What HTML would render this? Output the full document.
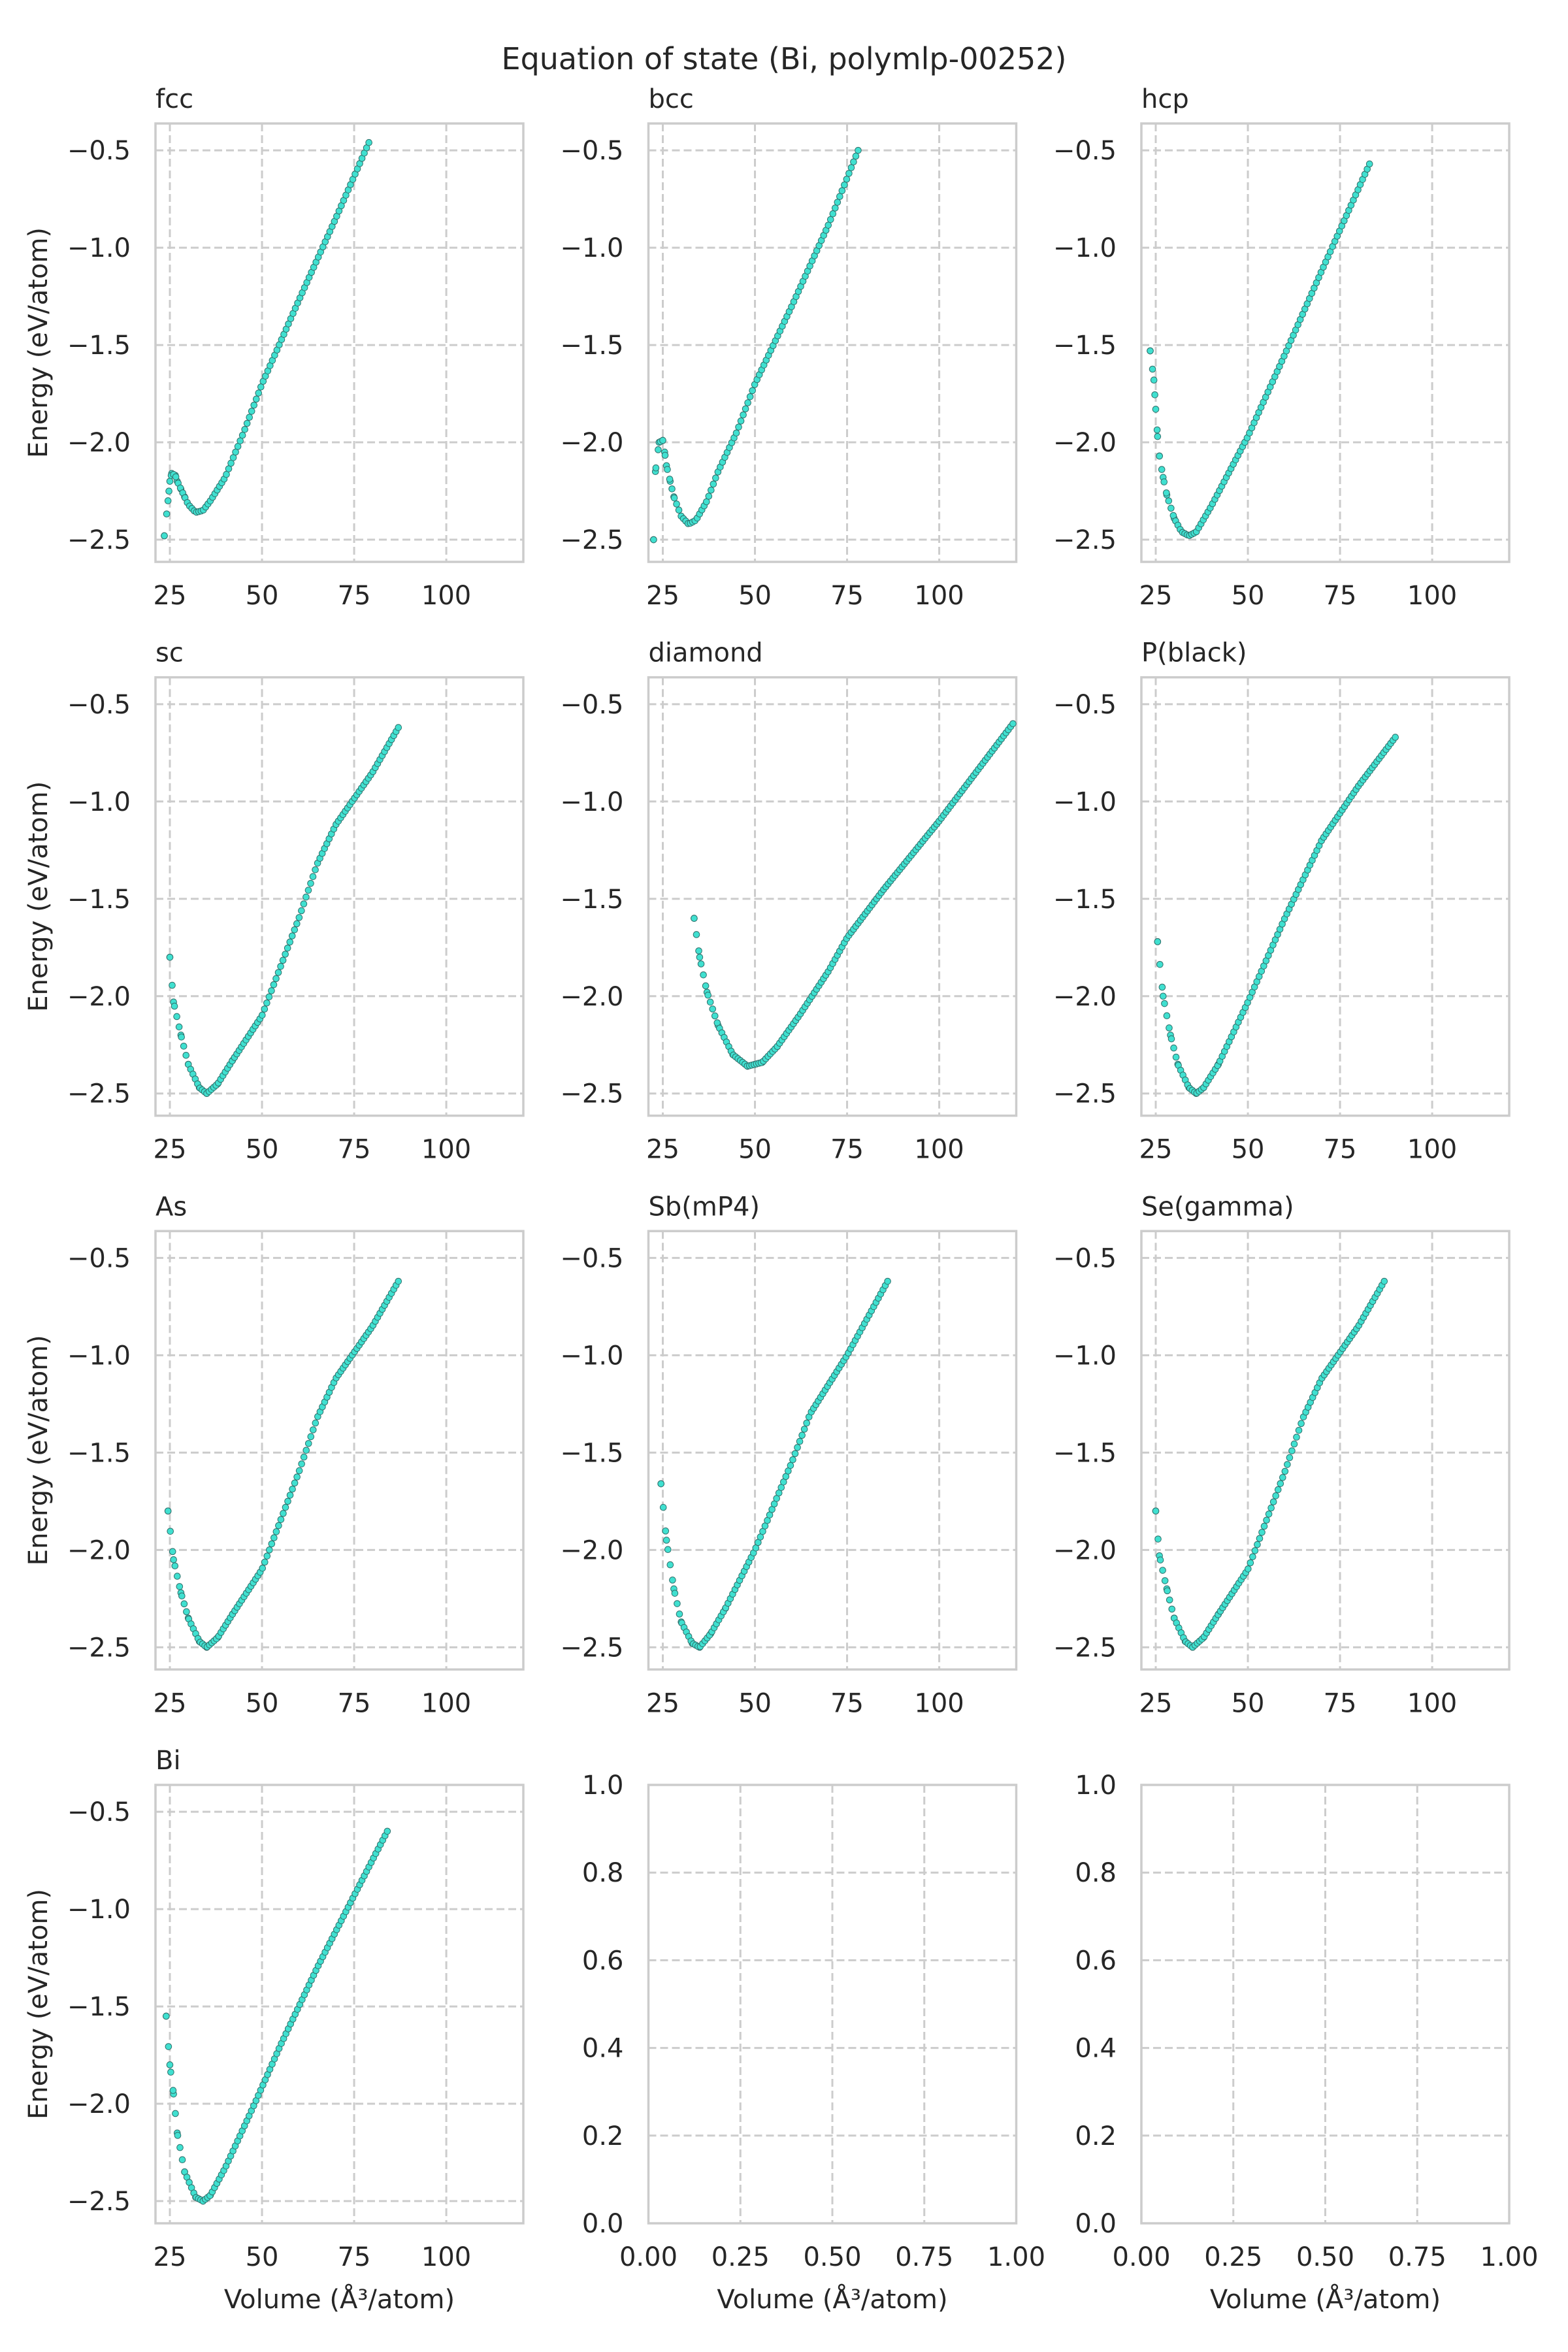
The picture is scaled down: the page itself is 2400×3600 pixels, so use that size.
<!DOCTYPE html>
<html><head><meta charset="utf-8"><style>
html,body{margin:0;padding:0;background:#fff}
svg{display:block}
text{font-family:"DejaVu Sans","Liberation Sans",sans-serif;fill:#262626}
</style></head><body>
<svg id="s" width="2400" height="3600" xmlns="http://www.w3.org/2000/svg">
<rect width="2400" height="3600" fill="#fff"/>
<text x="1200" y="106" font-size="46" text-anchor="middle">Equation of state (Bi, polymlp-00252)</text>
</svg>
<script>
const NS="http://www.w3.org/2000/svg",S=document.getElementById('s');
function el(t,a,txt){const e=document.createElementNS(NS,t);for(const k in a)e.setAttribute(k,a[k]);if(txt!==undefined)e.textContent=txt;S.appendChild(e);return e;}
const L=[238,992.5,1747],T=[189,1036.7,1884.3,2732],W=563,H=671;
const data={
fcc:[[23.5,-2.48],[24.5,-2.3],[25,-2.2],[25.5,-2.16],[26.5,-2.17],[27,-2.2],[28,-2.24],[29,-2.28],[30,-2.32],[32,-2.36],[34,-2.35],[36,-2.3],[40,-2.18],[45,-1.95],[50,-1.7],[60,-1.27],[70,-0.85],[79,-0.46]],
bcc:[[22.5,-2.5],[23,-2.15],[24,-2.0],[25,-1.99],[25.5,-2.05],[26,-2.12],[27,-2.2],[28,-2.28],[30,-2.38],[32,-2.42],[34,-2.4],[37,-2.3],[40,-2.15],[45,-1.95],[50,-1.7],[60,-1.3],[70,-0.88],[78,-0.5]],
hcp:[[23.5,-1.53],[24.5,-1.68],[25,-1.83],[25.5,-1.97],[26,-2.07],[27,-2.18],[28,-2.27],[30,-2.39],[32,-2.46],[34,-2.48],[36,-2.46],[40,-2.33],[45,-2.15],[50,-1.97],[60,-1.55],[70,-1.12],[83,-0.57]],
sc:[[25,-1.8],[26,-2.03],[28,-2.2],[30,-2.35],[33,-2.47],[35,-2.5],[38,-2.45],[42,-2.33],[50,-2.1],[55,-1.85],[60,-1.6],[65,-1.32],[70,-1.12],[80,-0.85],[87,-0.62]],
diamond:[[33.5,-1.6],[35,-1.8],[37,-1.98],[40,-2.15],[44,-2.3],[48,-2.36],[52,-2.34],[56,-2.26],[62,-2.1],[70,-1.87],[75,-1.7],[85,-1.45],[100,-1.1],[120,-0.6]],
"P(black)":[[25.5,-1.72],[27,-2.0],[29,-2.2],[31,-2.35],[34,-2.47],[36,-2.5],[38,-2.47],[42,-2.35],[50,-2.03],[60,-1.6],[70,-1.2],[80,-0.92],[90,-0.67]],
As:[[24.5,-1.8],[26,-2.05],[28,-2.22],[30,-2.35],[33,-2.47],[35,-2.5],[38,-2.45],[42,-2.33],[50,-2.1],[55,-1.85],[60,-1.6],[65,-1.32],[70,-1.12],[80,-0.85],[87,-0.62]],
"Sb(mP4)":[[24.5,-1.66],[26,-1.95],[28,-2.2],[30,-2.37],[33,-2.48],[35,-2.5],[38,-2.43],[42,-2.3],[50,-2.0],[60,-1.55],[65,-1.3],[75,-1.0],[86,-0.62]],
"Se(gamma)":[[25,-1.8],[26,-2.03],[28,-2.2],[30,-2.35],[33,-2.47],[35,-2.5],[38,-2.45],[42,-2.33],[50,-2.1],[55,-1.85],[60,-1.6],[65,-1.32],[70,-1.12],[80,-0.85],[87,-0.62]],
Bi:[[24,-1.55],[25,-1.8],[26,-1.95],[27,-2.15],[29,-2.35],[32,-2.48],[34,-2.5],[36,-2.47],[40,-2.33],[48,-2.0],[55,-1.7],[65,-1.3],[75,-0.93],[84,-0.6]]};
const names=Object.keys(data);
function interp(p,v){for(let i=0;i<p.length-1;i++){if(v<=p[i+1][0]){const t=(v-p[i][0])/(p[i+1][0]-p[i][0]);return p[i][1]+t*(p[i+1][1]-p[i][1]);}}return p[p.length-1][1];}
function frame(x0,y0){el('rect',{x:x0,y:y0,width:W,height:H,fill:'none',stroke:'#cccccc','stroke-width':3.5});}
for(let r=0;r<4;r++)for(let c=0;c<3;c++){
 const idx=r*3+c,x0=L[c],y0=T[r];
 if(idx<10){
  const xm=21.1,xM=120.9,ym=-2.614,yM=-0.362;
  const X=v=>x0+(v-xm)/(xM-xm)*W,Y=e=>y0+H-(e-ym)/(yM-ym)*H;
  [-0.5,-1,-1.5,-2,-2.5].forEach(e=>{el('line',{x1:x0,x2:x0+W,y1:Y(e),y2:Y(e),stroke:'#cccccc','stroke-width':3,'stroke-dasharray':'12 6'});
   el('text',{x:x0-38,y:Y(e)+14,'font-size':40,'text-anchor':'end'},(e<0?'\u2212':'')+Math.abs(e).toFixed(1));});
  [25,50,75,100].forEach(v=>{el('line',{x1:X(v),x2:X(v),y1:y0,y2:y0+H,stroke:'#cccccc','stroke-width':3,'stroke-dasharray':'12 6'});
   el('text',{x:X(v),y:y0+H+65,'font-size':40,'text-anchor':'middle'},v);});
  frame(x0,y0);
  const nm=names[idx],p=data[nm];
  el('text',{x:x0,y:y0-24,'font-size':40},nm);
  const v0=p[0][0],v1=p[p.length-1][0];
  const pts=[];p.slice(0,8).forEach(q=>pts.push(q[0]));
  const n=Math.round((v1-v0)*1.6);
  for(let i=0;i<=n;i++)pts.push(v0+(v1-v0)*i/n);
  pts.forEach(v=>el('circle',{cx:X(v),cy:Y(interp(p,v)),r:4.8,fill:'#40e0d0',stroke:'#2f6f6a','stroke-width':1}));
  if(c===0)el('text',{transform:`translate(72,${y0+H/2}) rotate(-90)`,'font-size':40,'text-anchor':'middle'},'Energy (eV/atom)');
 }else{
  const X=v=>x0+v*W,Y=e=>y0+H-e*H;
  [0.2,0.4,0.6,0.8].forEach(e=>el('line',{x1:x0,x2:x0+W,y1:Y(e),y2:Y(e),stroke:'#cccccc','stroke-width':3,'stroke-dasharray':'12 6'}));
  [0.25,0.5,0.75].forEach(v=>el('line',{x1:X(v),x2:X(v),y1:y0,y2:y0+H,stroke:'#cccccc','stroke-width':3,'stroke-dasharray':'12 6'}));
  [0,0.2,0.4,0.6,0.8,1].forEach(e=>el('text',{x:x0-38,y:Y(e)+14,'font-size':40,'text-anchor':'end'},e.toFixed(1)));
  [0,0.25,0.5,0.75,1].forEach(v=>el('text',{x:X(v),y:y0+H+65,'font-size':40,'text-anchor':'middle'},v.toFixed(2)));
  frame(x0,y0);
 }
 if(r===3)el('text',{x:x0+W/2,y:3533,'font-size':40,'text-anchor':'middle'},'Volume (\u00C5\u00B3/atom)');
}
</script>
</body></html>
